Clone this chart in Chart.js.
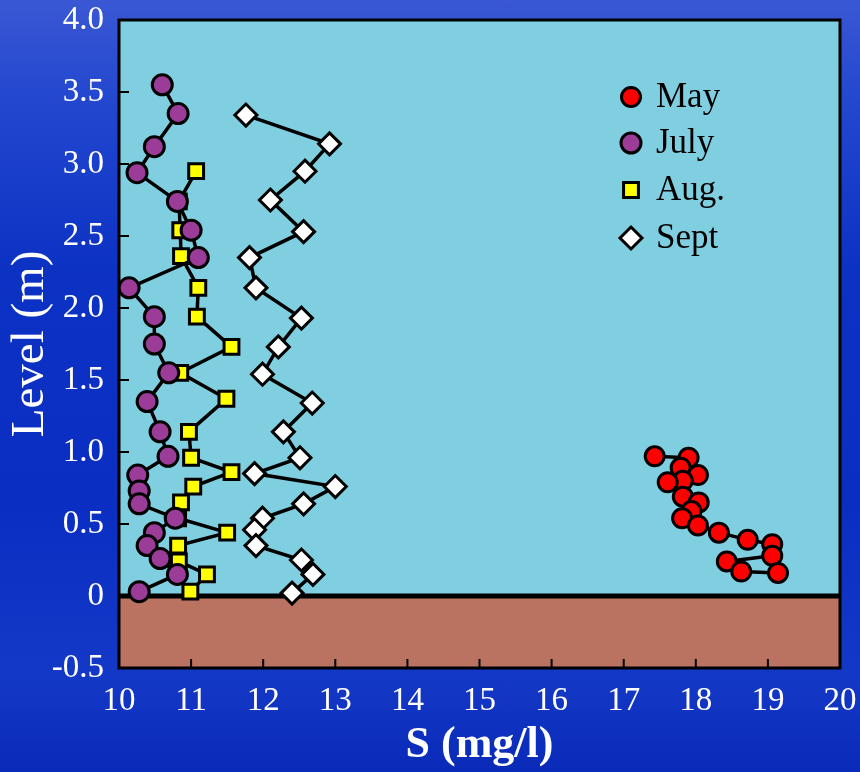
<!DOCTYPE html>
<html>
<head>
<meta charset="utf-8">
<title>S profiles</title>
<script src="https://cdn.jsdelivr.net/npm/chart.js@4/dist/chart.umd.min.js"></script>
<style>
  html, body { margin: 0; padding: 0; }
  body {
    width: 860px; height: 772px; overflow: hidden;
    background: linear-gradient(to bottom, #3a58d4 0%, #2448cf 12%, #0c32c4 35%, #0a2ec2 65%, #1438c6 88%, #0a2ab8 100%);
  }
  canvas { display: block; }
</style>
</head>
<body>
<canvas id="myChart" width="860" height="772"></canvas>
<script>
// S (mg/l) against level (m), one profile per month
var mayS = [17.43, 17.90, 17.79, 18.03, 17.82, 17.61, 17.82, 18.04, 17.94, 17.81, 18.03, 18.32, 18.72, 19.06, 19.06, 18.43, 18.63, 19.14];
var mayLevel = [0.97, 0.96, 0.89, 0.84, 0.80, 0.79, 0.69, 0.65, 0.59, 0.54, 0.49, 0.44, 0.39, 0.36, 0.28, 0.24, 0.17, 0.16];

var julyS = [10.60, 10.82, 10.49, 10.25, 10.81, 11.00, 11.10, 10.14, 10.49, 10.49, 10.69, 10.39, 10.57, 10.68, 10.26, 10.28, 10.28, 10.78, 10.49, 10.39, 10.57, 10.81, 10.28];
var julyLevel = [3.55, 3.35, 3.12, 2.94, 2.74, 2.54, 2.35, 2.14, 1.94, 1.75, 1.55, 1.35, 1.14, 0.97, 0.84, 0.73, 0.64, 0.54, 0.44, 0.35, 0.26, 0.15, 0.03];

var augS = [11.07, 10.83, 10.85, 10.86, 11.10, 11.08, 11.56, 10.85, 11.49, 10.97, 11.00, 11.56, 11.03, 10.86, 10.82, 11.50, 10.82, 10.83, 11.22, 10.99];
var augLevel = [2.95, 2.74, 2.54, 2.36, 2.14, 1.94, 1.73, 1.55, 1.37, 1.14, 0.96, 0.86, 0.76, 0.65, 0.54, 0.44, 0.35, 0.24, 0.15, 0.03];

var septS = [11.76, 12.92, 12.58, 12.10, 12.56, 11.81, 11.90, 12.53, 12.21, 11.99, 12.68, 12.28, 12.51, 11.88, 13.00, 12.56, 11.99, 11.88, 11.90, 12.53, 12.69, 12.40];
var septLevel = [3.34, 3.14, 2.95, 2.75, 2.53, 2.35, 2.14, 1.93, 1.73, 1.54, 1.34, 1.14, 0.96, 0.85, 0.76, 0.64, 0.54, 0.46, 0.35, 0.25, 0.15, 0.02];

var monthNames = ["May", "July", "Aug.", "Sept"];

var xTicks = [10, 11, 12, 13, 14, 15, 16, 17, 18, 19, 20];
var yTicks = [-0.5, 0, 0.5, 1.0, 1.5, 2.0, 2.5, 3.0, 3.5, 4.0];

var serif = "'Liberation Serif', 'Times New Roman', serif";

function toPoints(xs, ys) {
  var pts = [];
  for (var i = 0; i < xs.length; i++) {
    pts.push({ x: xs[i], y: ys[i] });
  }
  return pts;
}

function profile(label, xs, ys, style, fill, radius) {
  return {
    label: label,
    data: toPoints(xs, ys),
    showLine: true,
    borderColor: "#000",
    borderWidth: 3.5,
    pointStyle: style,
    pointRadius: radius,
    pointHoverRadius: radius,
    pointBackgroundColor: fill,
    pointBorderColor: "#000",
    pointBorderWidth: 3
  };
}

// water / sediment fill, zero line, frame and inward tick marks
var framePlugin = {
  id: "frame",
  beforeDatasetsDraw: function(chart) {
    var ctx = chart.ctx;
    var a = chart.chartArea;
    var xs = chart.scales.x;
    var ys = chart.scales.y;
    var y0 = ys.getPixelForValue(0);
    ctx.save();
    ctx.fillStyle = "#80cfe1";
    ctx.fillRect(a.left, a.top, a.right - a.left, y0 - a.top);
    ctx.fillStyle = "#bb7361";
    ctx.fillRect(a.left, y0, a.right - a.left, a.bottom - y0);

    ctx.strokeStyle = "#000";
    ctx.lineWidth = 2;
    ctx.beginPath();
    for (var i = 1; i < xTicks.length - 1; i++) {
      var px = xs.getPixelForValue(xTicks[i]);
      ctx.moveTo(px, a.bottom);
      ctx.lineTo(px, a.bottom - 9);
    }
    for (var j = 1; j < yTicks.length - 1; j++) {
      var py = ys.getPixelForValue(yTicks[j]);
      ctx.moveTo(a.left, py);
      ctx.lineTo(a.left + 10, py);
    }
    ctx.stroke();

    ctx.lineWidth = 5;
    ctx.beginPath();
    ctx.moveTo(a.left, y0);
    ctx.lineTo(a.right, y0);
    ctx.stroke();

    ctx.lineWidth = 3;
    ctx.strokeRect(a.left, a.top, a.right - a.left, a.bottom - a.top);
    ctx.restore();
  },
  afterDatasetsDraw: function(chart) {
    // legend sits inside the plot, top right
    var ctx = chart.ctx;
    var rows = [97, 143, 190, 238];
    ctx.save();
    ctx.font = "35px " + serif;
    ctx.fillStyle = "#000";
    ctx.textBaseline = "middle";
    chart.data.datasets.forEach(function(ds, i) {
      ctx.fillStyle = ds.pointBackgroundColor;
      ctx.strokeStyle = "#000";
      ctx.lineWidth = 3;
      Chart.helpers.drawPoint(ctx, { pointStyle: ds.pointStyle, radius: ds.pointRadius, borderWidth: 3 }, 631, rows[i]);
      ctx.fillStyle = "#000";
      ctx.fillText(ds.label, 656, rows[i] + 1);
    });
    ctx.restore();
  }
};

let myChart = new Chart(document.getElementById("myChart"), {
  type: "scatter",
  data: {
    datasets: [
      profile(monthNames[0], mayS, mayLevel, "circle", "#ff0000", 9.5),
      profile(monthNames[1], julyS, julyLevel, "circle", "#9b3d98", 10),
      profile(monthNames[2], augS, augLevel, "rect", "#ffff00", 10.5),
      profile(monthNames[3], septS, septLevel, "rectRot", "#ffffff", 11)
    ]
  },
  options: {
    responsive: false,
    animation: false,
    layout: { padding: { top: 20, right: 20, left: 0, bottom: 0 } },
    plugins: {
      legend: { display: false },
      tooltip: { enabled: false }
    },
    scales: {
      x: {
        type: "linear",
        min: xTicks[0],
        max: xTicks[xTicks.length - 1],
        afterBuildTicks: function(scale) {
          scale.ticks = xTicks.map(function(v) { return { value: v }; });
        },
        afterFit: function(scale) {
          scale.height = 104;
          scale.paddingLeft = 0;
          scale.paddingRight = 0;
        },
        grid: { display: false, drawTicks: false },
        border: { display: false },
        ticks: {
          color: "#fff",
          padding: 14,
          maxRotation: 0,
          font: { family: serif, size: 33 }
        },
        title: {
          display: true,
          text: "S (mg/l)",
          color: "#fff",
          padding: { top: 0, bottom: 0 },
          font: { family: serif, size: 44, weight: "bold" }
        }
      },
      y: {
        type: "linear",
        min: yTicks[0],
        max: yTicks[yTicks.length - 1],
        afterBuildTicks: function(scale) {
          scale.ticks = yTicks.map(function(v) { return { value: v }; });
        },
        afterFit: function(scale) {
          scale.width = 119;
          scale.paddingTop = 0;
          scale.paddingBottom = 0;
        },
        grid: { display: false, drawTicks: false },
        border: { display: false },
        ticks: {
          color: "#fff",
          padding: 15,
          font: { family: serif, size: 33 },
          callback: function(v) { return v === 0 ? "0" : v.toFixed(1); }
        },
        title: {
          display: true,
          text: "Level (m)",
          color: "#fff",
          padding: { top: 2, bottom: 0 },
          font: { family: serif, size: 47 }
        }
      }
    }
  },
  plugins: [framePlugin]
});
</script>
</body>
</html>
